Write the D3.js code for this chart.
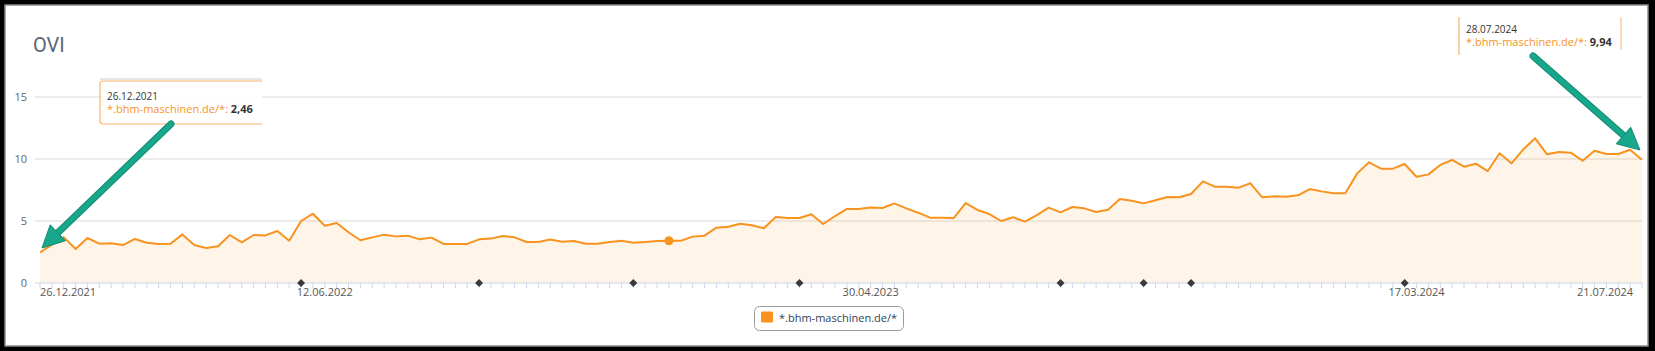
<!DOCTYPE html>
<html>
<head>
<meta charset="utf-8">
<script src="https://cdn.jsdelivr.net/npm/d3@7"></script>
<style>
  body { margin: 0; background: #000; }
  svg { display: block; }
</style>
</head>
<body>
<script>
// weekly OVI values, first week 26.12.2021
const START_DATE = "26.12.2021";
const ovi = [
  2.46, 3.1, 3.7, 2.74, 3.63, 3.17, 3.2, 3.06, 3.55, 3.25,
  3.15, 3.17, 3.92, 3.06, 2.82, 2.96, 3.87, 3.28, 3.87, 3.84,
  4.19, 3.41, 5.0, 5.59, 4.62, 4.84, 4.09, 3.45, 3.68, 3.9,
  3.76, 3.82, 3.52, 3.66, 3.15, 3.15, 3.15, 3.52, 3.58, 3.79,
  3.68, 3.31, 3.31, 3.5, 3.33, 3.39, 3.17, 3.17, 3.31, 3.41,
  3.25, 3.31, 3.39, 3.41, 3.41, 3.74, 3.82, 4.46, 4.54, 4.78,
  4.65, 4.41, 5.32, 5.24, 5.24, 5.54, 4.76, 5.4, 5.97, 5.97,
  6.08, 6.05, 6.42, 6.02, 5.67, 5.27, 5.27, 5.24, 6.45, 5.89,
  5.56, 5.0, 5.3, 4.95, 5.48, 6.08, 5.7, 6.13, 6.02, 5.73,
  5.91, 6.77, 6.64, 6.42, 6.67, 6.94, 6.91, 7.18, 8.2, 7.77,
  7.77, 7.69, 8.04, 6.91, 6.99, 6.96, 7.07, 7.58, 7.39, 7.23,
  7.23, 8.84, 9.73, 9.22, 9.22, 9.6, 8.57, 8.76, 9.52, 9.92,
  9.38, 9.62, 9.03, 10.46, 9.65, 10.78, 11.67, 10.38, 10.56, 10.51,
  9.86, 10.67, 10.4, 10.4, 10.75, 9.94
];
const seriesName = "*.bhm-maschinen.de/*";
const tickLabels = ["26.12.2021", "12.06.2022", "30.04.2023", "17.03.2024", "21.07.2024"];
const yTicks = [0, 5, 10, 15];
const flagDates = ["29.05.2022", "11.09.2022", "11.12.2022", "19.03.2023",
                   "20.08.2023", "08.10.2023", "05.11.2023", "10.03.2024"];
const markerDate = "01.01.2023";
const tooltipDates = ["26.12.2021", "28.07.2024"];

const width = 1655, height = 351;
const parse = d3.utcParse("%d.%m.%Y");
const fmtDate = d3.utcFormat("%d.%m.%Y");
const fmtVal = v => d3.format(".2f")(v).replace(".", ",");

const start = parse(START_DATE);
const data = ovi.map((v, i) => ({ date: d3.utcDay.offset(start, i * 7), value: v }));
const byDate = new Map(data.map(d => [fmtDate(d.date), d]));

const x = d3.scaleUtc()
  .domain(d3.extent(data, d => d.date))
  .range([40, 1642]);
const y = d3.scaleLinear()
  .domain([0, 15])
  .range([283, 97]);

const orange = "#f7931e";
const font = "'Open Sans', sans-serif";

const svg = d3.select("body").append("svg")
  .attr("width", width)
  .attr("height", height);

// screenshot frame
svg.append("rect").attr("width", width).attr("height", height).attr("fill", "#000");
svg.append("rect")
  .attr("x", 5).attr("y", 5).attr("width", 1643).attr("height", 341)
  .attr("fill", "#fff").attr("stroke", "#8a8a8a").attr("stroke-width", 1.5);

// title
svg.append("text")
  .attr("x", 33).attr("y", 52)
  .attr("font-family", "Roboto, sans-serif").attr("font-size", 20)
  .attr("fill", "#5a6676")
  .text("OVI");

// grid + y labels
const grid = svg.append("g");
yTicks.filter(t => t > 0).forEach(t => {
  grid.append("line")
    .attr("x1", 35).attr("x2", 1642)
    .attr("y1", y(t)).attr("y2", y(t))
    .attr("stroke", "#d9d9d9").attr("stroke-width", 1);
});
svg.append("g").selectAll("text")
  .data(yTicks)
  .join("text")
  .attr("x", 27).attr("y", d => y(d) + 4)
  .attr("text-anchor", "end")
  .attr("font-family", font).attr("font-size", 11)
  .attr("fill", "#666")
  .text(d => d);

// area + line
const area = d3.area()
  .x(d => x(d.date)).y0(y(0)).y1(d => y(d.value));
const line = d3.line()
  .x(d => x(d.date)).y(d => y(d.value));

svg.append("path").datum(data)
  .attr("d", area)
  .attr("fill", orange).attr("fill-opacity", 0.1);
svg.append("path").datum(data)
  .attr("d", line)
  .attr("fill", "none").attr("stroke", orange)
  .attr("stroke-width", 2).attr("stroke-linejoin", "round");

// x axis
const xAxis = svg.append("g").attr("transform", `translate(0,${y(0)})`);
xAxis.append("line")
  .attr("x1", 35).attr("x2", 1642)
  .attr("stroke", "#ccd6eb");
xAxis.selectAll(".minor")
  .data(data)
  .join("line")
  .attr("x1", d => x(d.date)).attr("x2", d => x(d.date))
  .attr("y1", 0).attr("y2", 5)
  .attr("stroke", "#ccd6eb");

const labelDates = tickLabels.map(parse);
xAxis.selectAll(".lbl")
  .data(labelDates)
  .join("text")
  .attr("x", (d, i) => i === labelDates.length - 1 ? x(d) + 3 : x(d))
  .attr("y", 13)
  .attr("text-anchor", (d, i) => i === 0 ? "start" : (i === labelDates.length - 1 ? "end" : "middle"))
  .attr("font-family", font).attr("font-size", 11)
  .attr("fill", "#555")
  .text(d => fmtDate(d));

// flags (diamonds on the axis)
svg.append("g").selectAll("path")
  .data(flagDates.map(parse))
  .join("path")
  .attr("transform", d => `translate(${x(d)},${y(0)})`)
  .attr("d", "M0,-4L4,0L0,4L-4,0Z")
  .attr("fill", "#3a3a3a");

// hover marker
const mk = byDate.get(markerDate);
svg.append("circle")
  .attr("cx", x(mk.date)).attr("cy", y(mk.value))
  .attr("r", 4.5).attr("fill", orange);

// tooltips
function tipText(g, tx, ty, d) {
  g.append("text")
    .attr("x", tx).attr("y", ty)
    .attr("font-family", font).attr("font-size", 10)
    .attr("fill", "#333")
    .text(fmtDate(d.date));
  const t = g.append("text")
    .attr("x", tx).attr("y", ty + 13)
    .attr("font-family", font).attr("font-size", 11);
  t.append("tspan").attr("fill", orange).text(seriesName + ": ");
  t.append("tspan").attr("fill", "#333").attr("font-weight", "bold").text(fmtVal(d.value));
}

const tl = svg.append("g");
tl.append("line").attr("x1", 100).attr("x2", 262).attr("y1", 79).attr("y2", 79)
  .attr("stroke", "#cfcfcf");
tl.append("path")
  .attr("d", "M262,81H103Q100,81 100,84V121Q100,124 103,124H262")
  .attr("fill", "#fff").attr("fill-opacity", 0.9)
  .attr("stroke", "#f9b46a").attr("stroke-width", 1.2);
tipText(tl, 107, 100, byDate.get(tooltipDates[0]));

const tr = svg.append("g");
tr.append("rect").attr("x", 1459).attr("y", 17).attr("width", 162).attr("height", 38)
  .attr("fill", "#fff");
tr.append("line").attr("x1", 1459).attr("x2", 1459).attr("y1", 17).attr("y2", 55)
  .attr("stroke", "#f9b46a").attr("stroke-width", 1.2);
tr.append("line").attr("x1", 1621).attr("x2", 1621).attr("y1", 17).attr("y2", 50)
  .attr("stroke", "#f9c08a").attr("stroke-width", 1.2);
tipText(tr, 1466, 33, byDate.get(tooltipDates[1]));

// green annotation arrows
function arrow(x1, y1, x2, y2) {
  const a = Math.atan2(y2 - y1, x2 - x1);
  const L = 22, W = 11;
  const bx = x2 - L * Math.cos(a), by = y2 - L * Math.sin(a);
  const px = -Math.sin(a), py = Math.cos(a);
  const g = svg.append("g");
  g.append("line")
    .attr("x1", x1).attr("y1", y1).attr("x2", bx).attr("y2", by)
    .attr("stroke", "#138a72").attr("stroke-width", 7).attr("stroke-linecap", "round");
  g.append("line")
    .attr("x1", x1).attr("y1", y1).attr("x2", bx).attr("y2", by)
    .attr("stroke", "#17a88b").attr("stroke-width", 5).attr("stroke-linecap", "round");
  g.append("path")
    .attr("d", `M${x2},${y2}L${bx + px * W},${by + py * W}L${bx - px * W},${by - py * W}Z`)
    .attr("fill", "#17a88b").attr("stroke", "#138a72").attr("stroke-width", 1);
}
arrow(171, 124, 42, 248);
arrow(1533, 56, 1640, 150);

// legend
const lg = svg.append("g");
lg.append("rect")
  .attr("x", 754.5).attr("y", 306.5).attr("width", 149).attr("height", 24)
  .attr("rx", 5).attr("fill", "#fff").attr("stroke", "#999");
lg.append("rect")
  .attr("x", 761).attr("y", 311.5).attr("width", 12).attr("height", 11)
  .attr("rx", 1).attr("fill", orange);
lg.append("text")
  .attr("x", 779).attr("y", 321.5)
  .attr("font-family", font).attr("font-size", 11)
  .attr("fill", "#2d3f5c")
  .text(seriesName);
</script>
</body>
</html>
